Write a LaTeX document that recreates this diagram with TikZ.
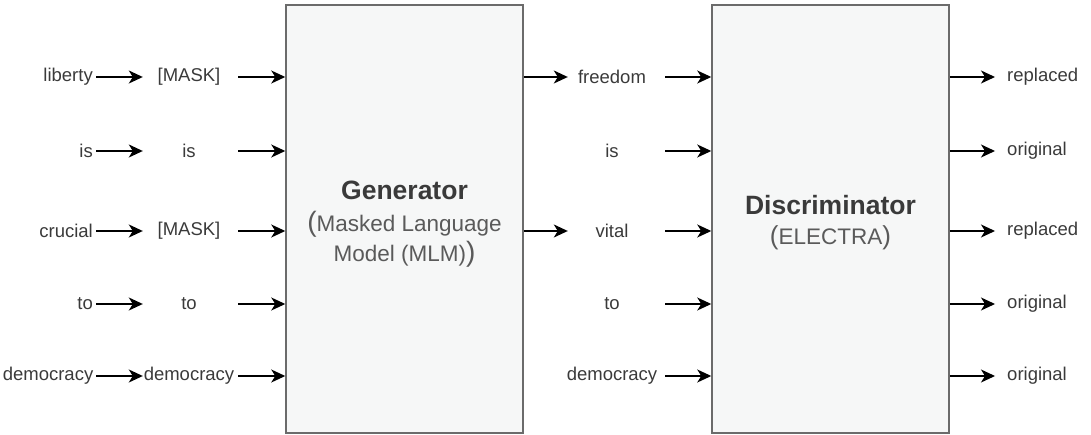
\documentclass[tikz,border=0pt]{standalone}
\usepackage{fontspec}
\setmainfont{Liberation Sans}
\usetikzlibrary{arrows.meta}
\definecolor{boxfill}{HTML}{F6F7F7}
\definecolor{boxline}{HTML}{6B6B6B}
\definecolor{txt}{HTML}{3A3A3A}
\definecolor{subtxt}{HTML}{5A5A5A}

\begin{document}
\begin{tikzpicture}[x=1pt,y=-1pt,
  word/.style={font=\fontsize{18.5}{20}\selectfont, text=txt, inner sep=0pt},
  srcword/.style={word, anchor=east, text width=90pt, align=right, inner xsep=3pt},
  slot/.style={word, minimum width=92pt},
  outword/.style={word, anchor=west},
  block/.style={draw=boxline, line width=1.5pt, fill=boxfill, minimum width=237pt, minimum height=428pt, inner sep=0pt},
  flow/.style={-{Stealth[length=14pt,width=13pt,inset=4pt]}, line width=1.5pt, black},
  title/.style={font=\fontsize{26.5}{28}\selectfont\bfseries, text=txt},
  subtitle/.style={font=\fontsize{22.5}{30}\selectfont, text=subtxt, align=center},
]
\useasboundingbox (0,0) rectangle (1091,435);

% the two model blocks
\node[block] (gen)  at (404.5,219) {};
\node[block] (disc) at (830.5,219) {};
\node[title] (gent) at (404.5,190) {Generator};
\node[subtitle] (gens) at (404.5,239) {{\fontsize{28}{28}\selectfont(}Masked Language\\Model (MLM){\fontsize{28}{28}\selectfont)}};
\node[title] (disct) at (830.5,205) {Discriminator};
\node[subtitle] (discs) at (830.5,238) {{\fontsize{26}{26}\selectfont(}ELECTRA{\fontsize{26}{26}\selectfont)}};

% original sentence
\node[srcword] (s1) at (96,77)  {liberty};
\node[srcword] (s2) at (96,151) {is};
\node[srcword] (s3) at (96,231) {crucial};
\node[srcword] (s4) at (96,304) {to};
\node[srcword] (s5) at (96,376) {democracy};

% masked input
\node[slot] (m1) at (189,77)  {[MASK]};
\node[slot] (m2) at (189,151) {is};
\node[slot] (m3) at (189,231) {[MASK]};
\node[slot] (m4) at (189,304) {to};
\node[slot] (m5) at (189,376) {democracy};

% generator output / discriminator input
\node[slot] (d1) at (612,77)  {freedom};
\node[slot] (d2) at (612,151) {is};
\node[slot] (d3) at (612,231) {vital};
\node[slot] (d4) at (612,304) {to};
\node[slot] (d5) at (612,376) {democracy};

% discriminator decisions
\node[outword] (o1) at (1007,77)  {replaced};
\node[outword] (o2) at (1007,151) {original};
\node[outword] (o3) at (1007,231) {replaced};
\node[outword] (o4) at (1007,304) {original};
\node[outword] (o5) at (1007,376) {original};

\foreach \i in {1,...,5} {
  \draw[flow] (s\i.east) -- (m\i.west);
  \draw[flow, shorten <=3pt] (m\i.east) -- (gen.west |- m\i);
  \draw[flow, shorten <=7pt] (d\i.east) -- (disc.west |- d\i);
  \draw[flow, shorten >=12pt] (disc.east |- o\i) -- (o\i.west);
}
\draw[flow, shorten >=-2pt] (gen.east |- d1) -- (d1.west);
\draw[flow, shorten >=-2pt] (gen.east |- d3) -- (d3.west);
\end{tikzpicture}
\end{document}
